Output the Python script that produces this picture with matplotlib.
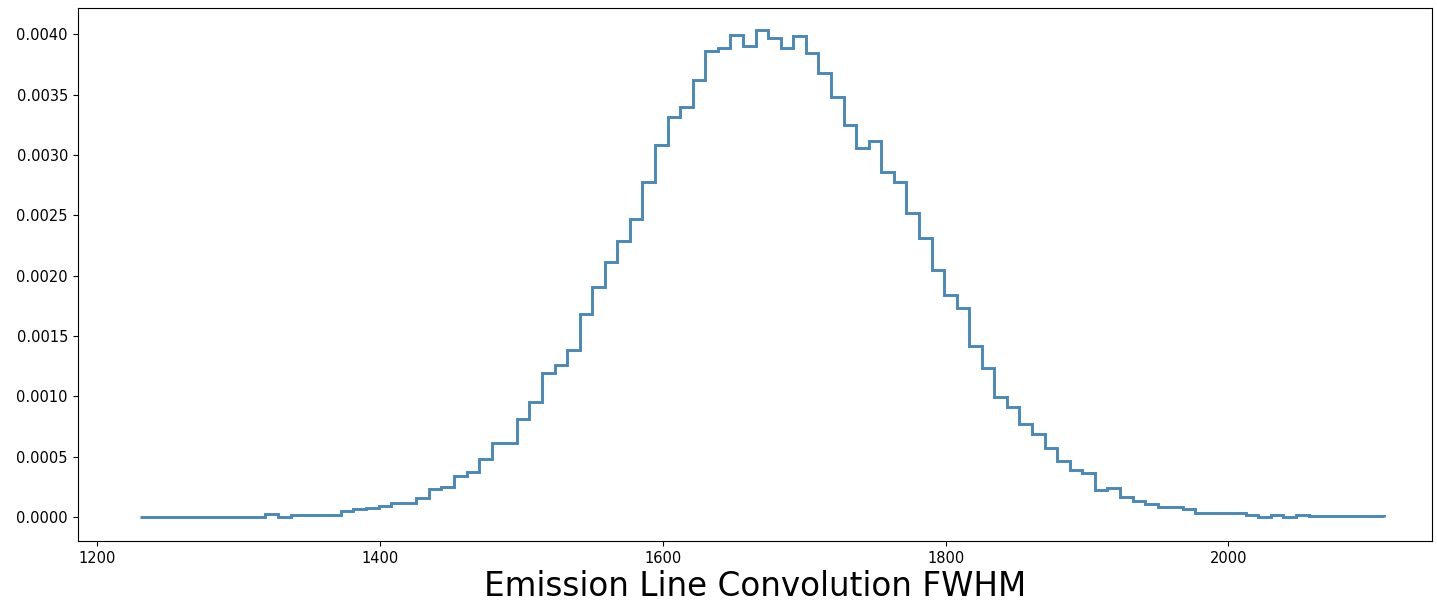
import numpy as np
import matplotlib
matplotlib.use("Agg")
import matplotlib.pyplot as plt
from matplotlib.ticker import MultipleLocator, FormatStrFormatter

# histogram (density) heights, 99 bins
fwhm_min = 1230.0
fwhm_max = 2110.0
density = [
    0.000003, 0.000003, 0.000003, 0.000003, 0.000003,
    0.000003, 0.000003, 0.000003, 0.000003, 0.000003,
    0.000022, 0.0,
    0.000017, 0.000017, 0.000017, 0.000017,
    0.000053, 0.000066, 0.000077, 0.000091,
    0.000114, 0.000114,
    0.000155,
    0.000230, 0.000245,
    0.000340, 0.000376,
    0.000480, 0.000617, 0.000617, 0.000810, 0.000957,
    0.001190, 0.001256, 0.001386, 0.001680, 0.001906,
    0.002110, 0.002285, 0.002473,
    0.002774, 0.003087, 0.003317, 0.003397, 0.003618,
    0.003862, 0.003890, 0.003995, 0.003903, 0.004033,
    0.003972, 0.003890, 0.003986, 0.003848, 0.003676,
    0.003480, 0.003245,
    0.003060, 0.003120,
    0.002857, 0.002774, 0.002520, 0.002313, 0.002044,
    0.001837, 0.001732, 0.001419, 0.001234, 0.000993,
    0.000910, 0.000769, 0.000686, 0.000575, 0.000467,
    0.000390, 0.000363, 0.000224, 0.000238, 0.000168,
    0.000133, 0.000105, 0.000085, 0.000085, 0.000064,
    0.000030, 0.000030, 0.000030, 0.000030, 0.000017,
    0.000003, 0.000020, 0.000003, 0.000020, 0.000005,
    0.000005, 0.000005, 0.000005, 0.000005, 0.000005,
]
edges = np.linspace(fwhm_min, fwhm_max, len(density) + 1)

fig = plt.figure(figsize=(14.37, 6.04), dpi=100)
ax = fig.add_axes([0.054, 0.104, 0.9425, 0.883])

ax.stairs(density, edges, color="#4a88b8", linewidth=2.1)

ax.set_xlim(1186, 2144)
ax.set_ylim(-0.0002, 0.00422)
ax.xaxis.set_major_locator(MultipleLocator(200))
ax.yaxis.set_major_locator(MultipleLocator(0.0005))
ax.yaxis.set_major_formatter(FormatStrFormatter("%.4f"))
ax.tick_params(labelsize=10.5)

ax.set_xlabel("Emission Line Convolution FWHM", fontsize=23.5, labelpad=3)

fig.savefig("out.png", dpi=100)
